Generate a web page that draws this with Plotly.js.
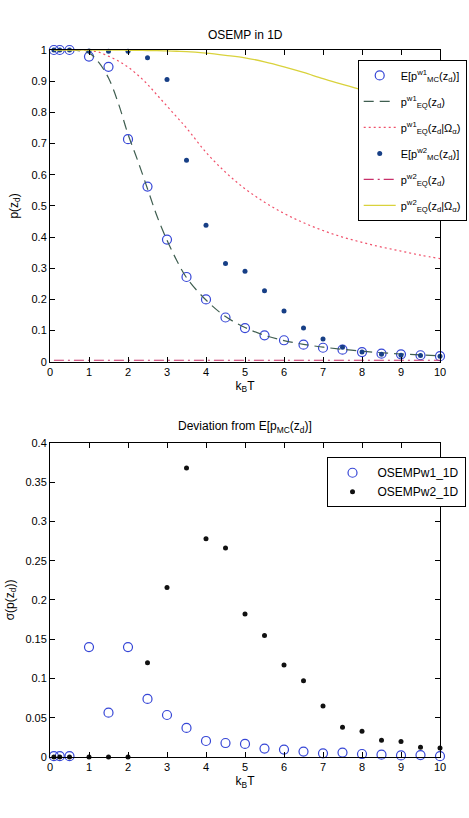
<!DOCTYPE html>
<html>
<head>
<meta charset="utf-8">
<script src="https://cdn.plot.ly/plotly-3.0.1.min.js"></script>
<style>
  html, body { margin: 0; padding: 0; background: #fff; }
  #chart { width: 469px; height: 818px; }
</style>
</head>
<body>
<div id="chart"></div>
<script>
// Temperature samples (k_B T) of the Monte Carlo runs
const mcX = [0.1, 0.25, 0.5, 1, 1.5, 2, 2.5, 3, 3.5, 4, 4.5, 5, 5.5, 6, 6.5, 7, 7.5, 8, 8.5, 9, 9.5, 10];

// Mean Monte Carlo occupation probabilities
const mcW1 = [1, 1, 1, 0.979, 0.946, 0.714, 0.562, 0.392, 0.272, 0.200, 0.142, 0.108, 0.085, 0.069, 0.055, 0.045, 0.039, 0.031, 0.026, 0.024, 0.021, 0.018];
const mcW2 = [1, 1, 1, 0.997, 0.996, 0.996, 0.975, 0.905, 0.646, 0.438, 0.315, 0.290, 0.228, 0.163, 0.108, 0.073, 0.047, 0.031, 0.024, 0.021, 0.020, 0.018];

// Equilibrium curves
const eqX = [0.1, 0.5, 1, 1.25, 1.5, 1.75, 2, 2.25, 2.5, 2.75, 3, 3.25, 3.5, 4, 4.5, 5, 5.5, 6, 6.5, 7, 7.5, 8, 8.5, 9, 9.5, 10];
const eqW1 = [1, 1, 0.99, 0.96, 0.91, 0.83, 0.73, 0.645, 0.555, 0.465, 0.39, 0.325, 0.27, 0.198, 0.145, 0.11, 0.085, 0.068, 0.056, 0.047, 0.04, 0.034, 0.029, 0.025, 0.022, 0.019];
const eqW1Omega = [1, 1, 0.998, 0.993, 0.98, 0.965, 0.945, 0.92, 0.89, 0.855, 0.82, 0.785, 0.75, 0.672, 0.608, 0.555, 0.512, 0.476, 0.446, 0.421, 0.4, 0.383, 0.368, 0.355, 0.342, 0.331];
const eqW2Omega = [1, 1, 1, 1, 1, 1, 0.999, 0.999, 0.998, 0.998, 0.997, 0.996, 0.995, 0.99, 0.983, 0.975, 0.962, 0.946, 0.928, 0.908, 0.89, 0.872, 0.852, 0.832, 0.812, 0.79];
const eqW2X = [0.1, 10];
const eqW2 = [0.005, 0.005];

// Standard deviation of the Monte Carlo estimates
const sdW1 = [0.001, 0.001, 0.001, 0.140, 0.0565, 0.140, 0.074, 0.0535, 0.037, 0.0204, 0.0178, 0.0166, 0.0107, 0.0094, 0.0069, 0.0047, 0.0056, 0.0038, 0.003, 0.002, 0.0025, 0.001];
const sdW2 = [0, 0, 0, 0, 0, 0, 0.120, 0.216, 0.368, 0.278, 0.266, 0.182, 0.1546, 0.117, 0.097, 0.065, 0.038, 0.0327, 0.0213, 0.0196, 0.0124, 0.0115];

// Text
const topTitle = 'OSEMP in 1D';
const bottomTitle = 'Deviation from E[p<sub>MC</sub>(z<sub>d</sub>)]';
const xTitle = 'k<sub>B</sub>T';
const topYTitle = 'p(z<sub>d</sub>)';
const bottomYTitle = 'σ(p(z<sub>d</sub>))';
const names = {
  mcW1: 'E[p<sup>w1</sup><sub>MC</sub>(z<sub>d</sub>)]',
  eqW1: 'p<sup>w1</sup><sub>EQ</sub>(z<sub>d</sub>)',
  eqW1Omega: 'p<sup>w1</sup><sub>EQ</sub>(z<sub>d</sub>|Ω<sub>α</sub>)',
  mcW2: 'E[p<sup>w2</sup><sub>MC</sub>(z<sub>d</sub>)]',
  eqW2: 'p<sup>w2</sup><sub>EQ</sub>(z<sub>d</sub>)',
  eqW2Omega: 'p<sup>w2</sup><sub>EQ</sub>(z<sub>d</sub>|Ω<sub>α</sub>)',
  sdW1: 'OSEMPw1_1D',
  sdW2: 'OSEMPw2_1D'
};

const circleBlue = '#3646d6';
const dotNavy = '#173f86';
const fontFamily = 'Liberation Sans, Arial, sans-serif';

const traces = [
  { x: mcX, y: mcW1, name: names.mcW1, mode: 'markers', type: 'scatter', legendgroup: 'a',
    marker: { symbol: 'circle-open', size: 9, color: circleBlue, line: { width: 1.2 } }, cliponaxis: false },
  { x: eqX, y: eqW1, name: names.eqW1, mode: 'lines', type: 'scatter', legendgroup: 'b',
    line: { color: '#3f5e50', width: 1.2, dash: '10px,6px', shape: 'spline' } },
  { x: eqX, y: eqW1Omega, name: names.eqW1Omega, mode: 'lines', type: 'scatter', legendgroup: 'c',
    line: { color: '#f0506a', width: 1.2, dash: '2px,3px', shape: 'spline' } },
  { x: mcX, y: mcW2, name: names.mcW2, mode: 'markers', type: 'scatter', legendgroup: 'd',
    marker: { symbol: 'circle', size: 5, color: dotNavy }, cliponaxis: false },
  { x: eqW2X, y: eqW2, name: names.eqW2, mode: 'lines', type: 'scatter', legendgroup: 'e',
    line: { color: '#c8306a', width: 1.2, dash: '10px,4px,2px,4px' } },
  { x: eqX, y: eqW2Omega, name: names.eqW2Omega, mode: 'lines', type: 'scatter', legendgroup: 'f',
    line: { color: '#d9d23c', width: 1.3, shape: 'spline' } },

  { x: mcX, y: sdW1, name: names.sdW1, mode: 'markers', type: 'scatter', xaxis: 'x2', yaxis: 'y2', legend: 'legend2',
    marker: { symbol: 'circle-open', size: 9, color: circleBlue, line: { width: 1.2 } }, cliponaxis: false },
  { x: mcX, y: sdW2, name: names.sdW2, mode: 'markers', type: 'scatter', xaxis: 'x2', yaxis: 'y2', legend: 'legend2',
    marker: { symbol: 'circle', size: 5, color: '#111111' }, cliponaxis: false }
];

const axisFont = { family: fontFamily, size: 11, color: '#000' };
const baseAxis = {
  showline: true, linecolor: '#000', linewidth: 1, mirror: 'ticks',
  ticks: 'inside', ticklen: 5, tickcolor: '#000', showgrid: false, zeroline: false,
  tickfont: axisFont
};

const layout = {
  width: 469, height: 818,
  margin: { l: 50, r: 29, t: 50, b: 61, autoexpand: false },
  paper_bgcolor: '#fff', plot_bgcolor: '#fff',
  font: axisFont,
  showlegend: true,
  xaxis: Object.assign({}, baseAxis, { domain: [0, 1], anchor: 'y', range: [0, 10], dtick: 1,
    title: { text: xTitle, font: { size: 12 }, standoff: 4 } }),
  yaxis: Object.assign({}, baseAxis, { domain: [0.559, 1], anchor: 'x', range: [0, 1], dtick: 0.1,
    title: { text: topYTitle, font: { size: 12 }, standoff: 10 } }),
  xaxis2: Object.assign({}, baseAxis, { domain: [0, 1], anchor: 'y2', range: [0, 10], dtick: 1,
    title: { text: xTitle, font: { size: 12 }, standoff: 4 } }),
  yaxis2: Object.assign({}, baseAxis, { domain: [0, 0.4443], anchor: 'x2', range: [0, 0.4], dtick: 0.05,
    title: { text: bottomYTitle, font: { size: 12 }, standoff: 8 } }),
  legend: {
    x: 0.789, y: 0.986, xanchor: 'left', yanchor: 'top',
    bgcolor: '#fff', bordercolor: '#000', borderwidth: 1,
    font: { family: fontFamily, size: 11, color: '#000' },
    itemwidth: 32, tracegroupgap: 7
  },
  legend2: {
    x: 0.709, y: 0.424, xanchor: 'left', yanchor: 'top',
    bgcolor: '#fff', bordercolor: '#000', borderwidth: 1,
    font: { family: fontFamily, size: 12, color: '#000' },
    itemwidth: 40, tracegroupgap: 0
  },
  annotations: [
    { text: topTitle, xref: 'x domain', yref: 'y domain', x: 0.5, y: 1, xanchor: 'center', yanchor: 'bottom',
      yshift: 6, showarrow: false, font: { family: fontFamily, size: 12, color: '#000' } },
    { text: bottomTitle, xref: 'x2 domain', yref: 'y2 domain', x: 0.5, y: 1, xanchor: 'center', yanchor: 'bottom',
      yshift: 6, showarrow: false, font: { family: fontFamily, size: 12, color: '#000' } }
  ]
};

Plotly.newPlot('chart', traces, layout, { displayModeBar: false, staticPlot: true });
</script>
</body>
</html>
